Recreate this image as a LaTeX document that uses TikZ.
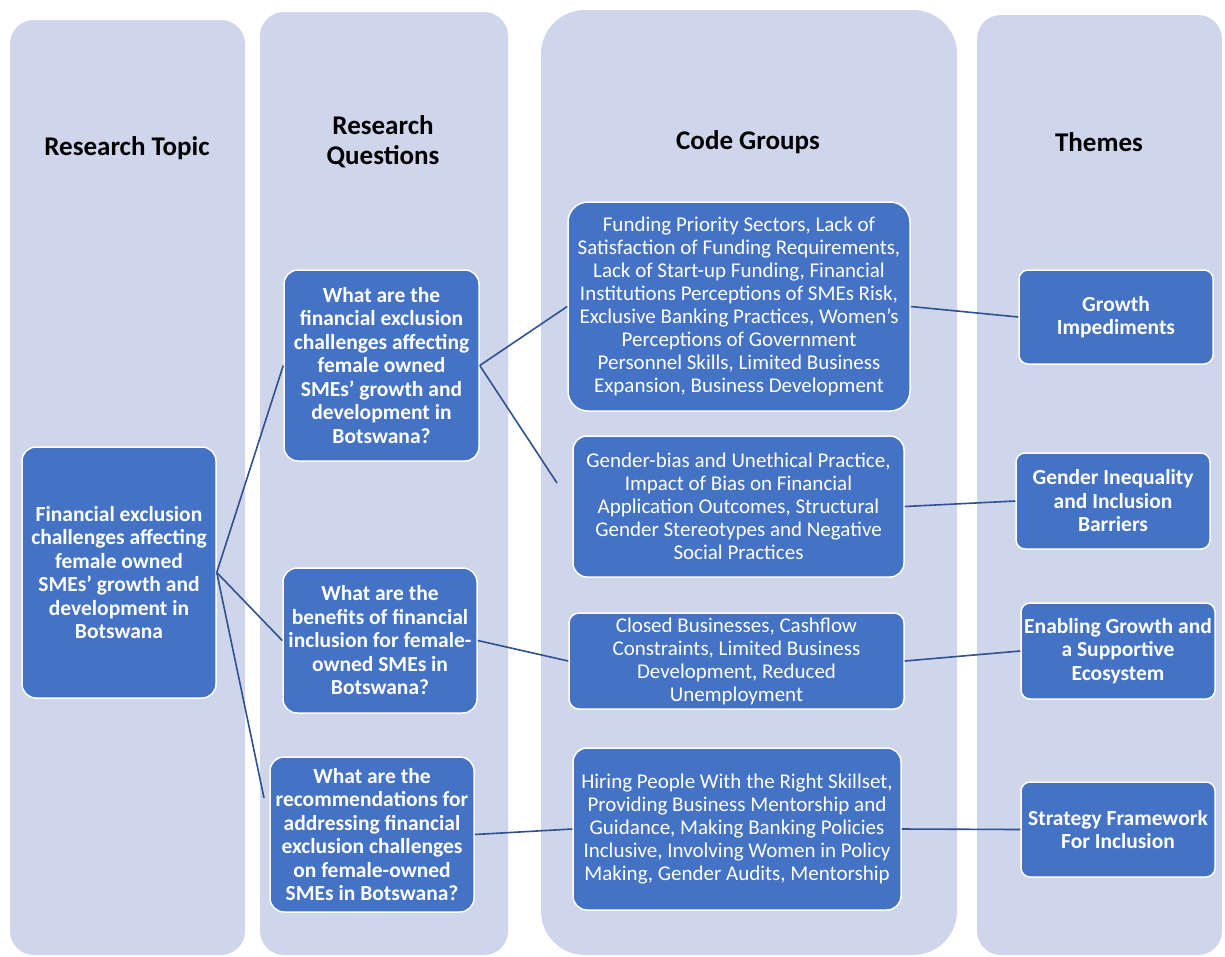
\documentclass[tikz,border=0pt]{standalone}
\usepackage{fontspec}
\setmainfont{Carlito}
\definecolor{colbg}{HTML}{CFD5EA}
\definecolor{boxfill}{HTML}{4472C4}
\definecolor{linkc}{HTML}{2F528F}
\begin{document}
\begin{tikzpicture}[x=1pt,y=-1pt,
  column/.style={fill=colbg},
  header/.style={font=\fontsize{27}{30}\selectfont\bfseries, text=black, align=center},
  card/.style={draw=white, line width=1.5pt, fill=boxfill, text=white, align=center,
     inner sep=0pt, rounded corners=#1},
  card/.default=14pt,
  boldtxt/.style={font=\fontsize{21.5}{23.5}\selectfont\bfseries},
  plaintxt/.style={font=\fontsize{21}{23}\selectfont},
  link/.style={draw=linkc, line width=1.6pt}
]
\useasboundingbox (0,0) rectangle (1225,956);
% column backgrounds
\fill[column, rounded corners=24pt] (10,20) rectangle (245,955);
\fill[column, rounded corners=24pt] (260,12) rectangle (508,955);
\fill[column, rounded corners=44pt] (541,10) rectangle (957,955);
\fill[column, rounded corners=24pt] (977,15) rectangle (1222,955);

% headers
\node[header] (h1) at (127,148) {Research Topic};
\node[header] (h2) at (383,142) {Research\\Questions};
\node[header] (h3) at (748,142) {Code Groups};
\node[header] (h4) at (1099,142) {Themes};

% topic
\node[card, boldtxt, minimum width=194pt, minimum height=251pt] (topic) at (119,572.5)
 {Financial exclusion\\challenges affecting\\female owned\\SMEs’ growth and\\development in\\Botswana};

% questions
\node[card, boldtxt, minimum width=195pt, minimum height=191pt] (q1) at (381.5,365.5)
 {What are the\\financial exclusion\\challenges affecting\\female owned\\SMEs’ growth and\\development in\\Botswana?};
\node[card, boldtxt, minimum width=194pt, minimum height=145pt] (q2) at (380,640.5)
 {What are the\\benefits of financial\\inclusion for female-\\owned SMEs in\\Botswana?};
\node[card, boldtxt, minimum width=204pt, minimum height=155pt] (q3) at (372,834.5)
 {What are the\\recommendations for\\addressing financial\\exclusion challenges\\on female-owned\\SMEs in Botswana?};

% code groups
\node[card=20pt, plaintxt, minimum width=342pt, minimum height=209pt] (cg1) at (739,306.5)
 {Funding Priority Sectors, Lack of\\Satisfaction of Funding Requirements,\\Lack of Start-up Funding, Financial\\Institutions Perceptions of SMEs Risk,\\Exclusive Banking Practices, Women’s\\Perceptions of Government\\Personnel Skills, Limited Business\\Expansion, Business Development};
\node[card, plaintxt, minimum width=331pt, minimum height=141pt] (cg2) at (738.5,506.5)
 {Gender-bias and Unethical Practice,\\Impact of Bias on Financial\\Application Outcomes, Structural\\Gender Stereotypes and Negative\\Social Practices};
\node[card=10pt, plaintxt, minimum width=335pt, minimum height=96pt] (cg3) at (736.5,661)
 {Closed Businesses, Cashflow\\Constraints, Limited Business\\Development, Reduced\\Unemployment};
\node[card, plaintxt, minimum width=328pt, minimum height=162pt] (cg4) at (737,829)
 {Hiring People With the Right Skillset,\\Providing Business Mentorship and\\Guidance, Making Banking Policies\\Inclusive, Involving Women in Policy\\Making, Gender Audits, Mentorship};

% themes
\node[card=9pt, boldtxt, minimum width=194pt, minimum height=94pt] (t1) at (1116,317)
 {Growth\\Impediments};
\node[card=9pt, boldtxt, minimum width=194pt, minimum height=96pt] (t2) at (1113,501)
 {Gender Inequality\\and Inclusion\\Barriers};
\node[card=9pt, boldtxt, minimum width=194pt, minimum height=96pt] (t3) at (1118,651)
 {Enabling Growth and\\a Supportive\\Ecosystem};
\node[card=9pt, boldtxt, minimum width=194pt, minimum height=95pt] (t4) at (1118,829.5)
 {Strategy Framework\\For Inclusion};

% connector free ends
\coordinate (q3in) at (264,798);
\coordinate (cg2in) at (557,483);

% connectors
\draw[link] (topic.east) -- (q1.west);
\draw[link] (topic.east) -- (q2.west);
\draw[link] (topic.east) -- (q3in);
\draw[link] (q1.east) -- (cg1.west);
\draw[link] (q1.east) -- (cg2in);
\draw[link] (q2.east) -- (cg3.west);
\draw[link] (q3.east) -- (cg4.west);
\draw[link] (cg1.east) -- (t1.west);
\draw[link] (cg2.east) -- (t2.west);
\draw[link] (cg3.east) -- (t3.west);
\draw[link] (cg4.east) -- (t4.west);
\end{tikzpicture}
\end{document}
